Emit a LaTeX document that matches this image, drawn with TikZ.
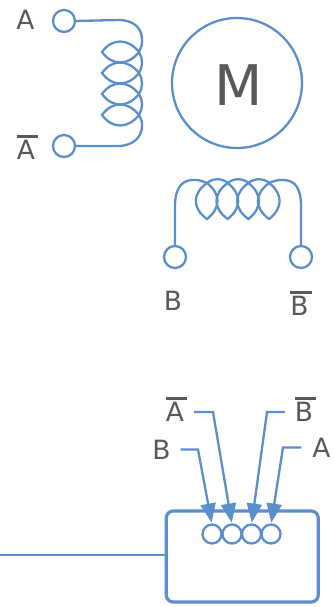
\documentclass[tikz,border=0pt]{standalone}
\usepackage{fontspec}
\setmainfont{DejaVu Sans}
\usetikzlibrary{arrows.meta, positioning, calc}
\definecolor{wireblue}{HTML}{5B8FCB}
\definecolor{labelgray}{HTML}{595959}
\tikzset{
    wire/.style={draw=wireblue,line width=2.3pt},
    port/.style={circle,wire,fill=none,minimum size=22pt,inner sep=0pt,outer sep=0pt},
    pin/.style={circle,wire,fill=none,minimum size=19pt,inner sep=0pt,outer sep=0pt},
    lbl/.style={text=labelgray,font=\fontsize{26.5}{30}\selectfont,inner sep=0pt,outer sep=0pt},
    feed/.style={wire,-{Triangle[length=19pt,width=15pt]},shorten >=2pt}
}
\newcommand{\barred}[1]{\rlap{\smash{\raisebox{22pt}{\textcolor{labelgray}{\rule{21.5pt}{2.4pt}}}}}#1}
\begin{document}
\begin{tikzpicture}[x=1pt,y=-1pt]
\useasboundingbox (0,0) rectangle (334,607);
% Coil A
\node[port] (pa) at (64,21) {};
\node[port] (pan) at (64,146) {};
\node[lbl] (la) at (25.5,20) {A};
\node[lbl] (lan) at (26,150) {\barred{A}};
\foreach \i in {0,...,3} {
    \draw[wire] (139,52+21*\i) .. controls (128,66+21*\i) and (112,66+21*\i) .. (102,52+21*\i)
        .. controls (112,38+21*\i) and (128,38+21*\i) .. (139,52+21*\i);
}
\foreach \i in {0,...,2} {
    \draw[wire] (139,52+21*\i) .. controls (143,58+21*\i) and (143,67+21*\i) .. (139,73+21*\i);
}
\draw[wire] (pa.east) -- (118,20) .. controls (134,20) and (142,28) .. (142,40) .. controls (142,45) .. (139,52);
\draw[wire] (pan.east) -- (118,146) .. controls (134,146) and (142,136) .. (142,126) .. controls (142,121) .. (139,115);
% Motor
\node[circle,wire,minimum size=130pt,inner sep=0pt,outer sep=0pt] (motor) at (237,83) {};
\node[lbl,font=\fontsize{56}{60}\selectfont] (lm) at (238.5,85) {M};
% Coil B
\node[port] (pb) at (175,257) {};
\node[port] (pbn) at (301,257) {};
\node[lbl] (lb) at (173,301) {B};
\node[lbl] (lbn) at (299.5,306) {\barred{B}};
\foreach \i in {0,...,3} {
    \draw[wire] (207+20.7*\i,183) .. controls (221+20.7*\i,194) and (221+20.7*\i,208) .. (207+20.7*\i,219)
        .. controls (192+20.7*\i,208) and (192+20.7*\i,194) .. (207+20.7*\i,183);
}
\foreach \i in {0,...,2} {
    \draw[wire] (207+20.7*\i,183) .. controls (213+20.7*\i,178) and (222+20.7*\i,178) .. (228+20.7*\i,183);
}
\draw[wire] (pb.north) -- (175,206) .. controls (175,188) and (182,180) .. (193,180) .. controls (199,180) .. (207,183);
\draw[wire] (pbn.north) -- (301,206) .. controls (301,188) and (295,180) .. (283,180) .. controls (277,180) .. (269,183);
% Connector
\node[draw=wireblue,line width=3.2pt,rounded corners=7pt,minimum width=152pt,minimum height=91pt,inner sep=0pt,outer sep=0pt] (box) at (242.25,556.5) {};
\coordinate (cable) at (0,555);
\draw[wire] (cable) -- (cable -| box.west);
\foreach \name/\x in {pinb/212,pinan/232,pinbn/251.5,pina/271} {
    \node[pin] (\name) at (\x,534) {};
}
\node[lbl] (tb) at (161.5,449.5) {B};
\node[lbl] (tan) at (175,412) {\barred{A}};
\node[lbl] (tbn) at (304,412) {\barred{B}};
\node[lbl] (ta) at (321.5,447.5) {A};
\draw[feed,shorten <=10pt] (tb.east) -- (198,449.5) -- (pinb.north);
\draw[feed,shorten <=10pt] (tan.east) -- (213,412) -- (pinan.north);
\draw[feed,shorten <=10pt] (tbn.west) -- (267,412) -- (pinbn.north);
\draw[feed,shorten <=11pt] (ta.west) -- (283,447.5) -- (pina.north);
\end{tikzpicture}
\end{document}
